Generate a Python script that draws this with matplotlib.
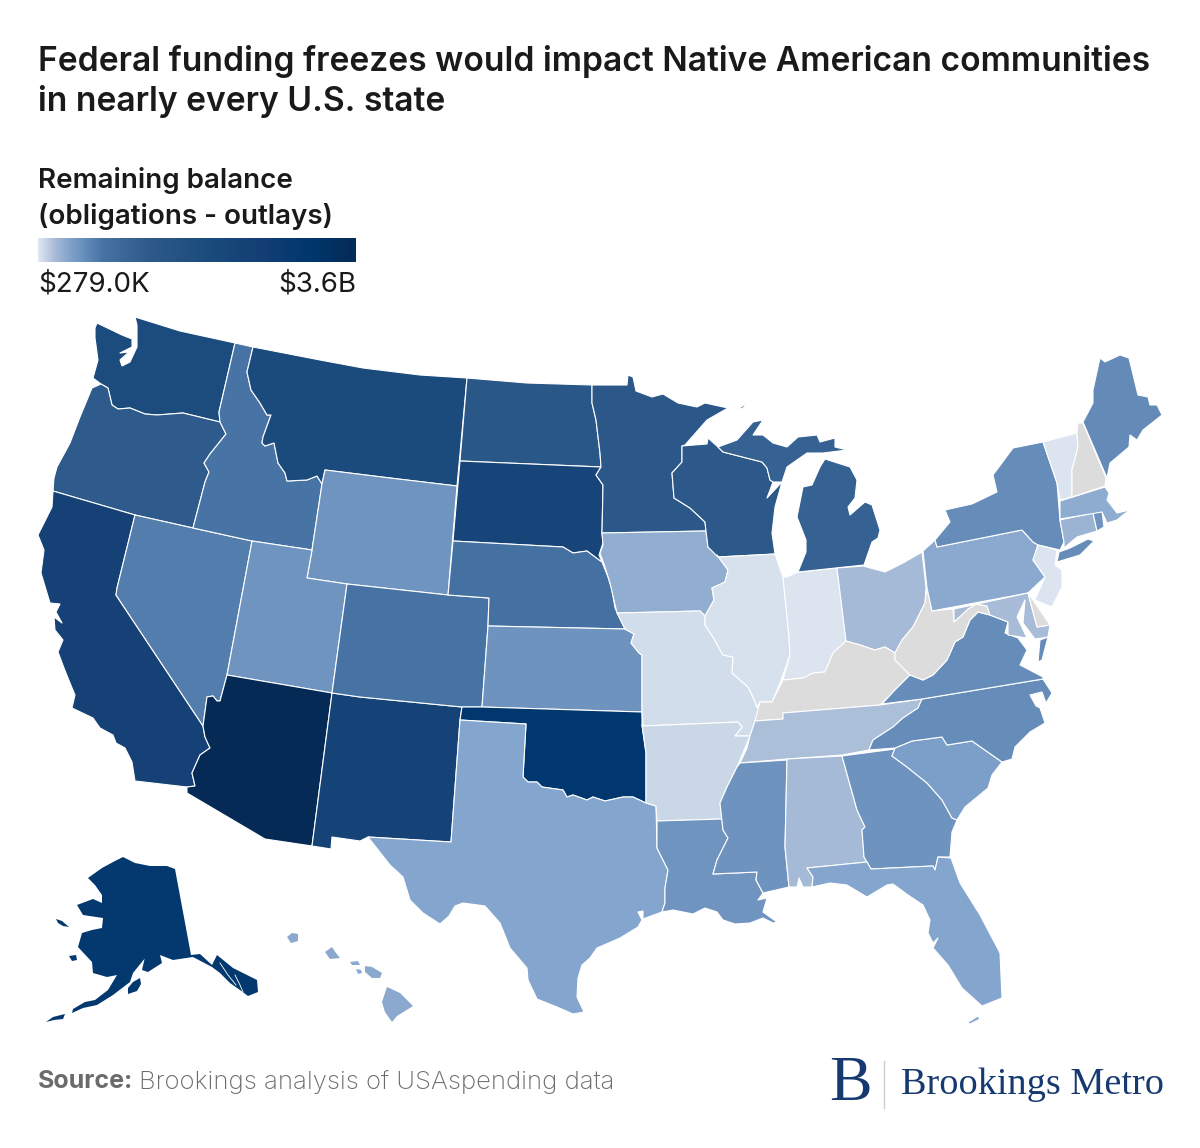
import matplotlib
matplotlib.use("Agg")
import matplotlib.pyplot as plt
import numpy as np
from matplotlib.collections import PolyCollection
from matplotlib.colors import LinearSegmentedColormap, Normalize

# remaining balance per state in $ millions (nan = no data)
states = ["WA", "OR", "CA", "NV", "ID", "MT", "WY", "UT", "AZ", "NM", "CO", "ND", "SD", "NE", "KS",
          "OK", "TX", "MN", "IA", "MO", "AR", "LA", "WI", "IL", "IN", "MI", "OH", "KY", "TN", "MS",
          "AL", "GA", "FL", "SC", "NC", "VA", "WV", "PA", "NY", "MD", "DE", "NJ", "CT", "RI", "MA",
          "VT", "NH", "ME", "AK", "HI"]
balance = [1900, 1250, 2400, 650, 720, 1950, 470, 470, 3600, 2300, 740, 1400, 2200, 780, 490,
           3060, 345, 1350, 288, 50, 80, 468, 1300, 30, 18, 1100, 200, np.nan, 180, 480,
           205, 480, 350, 380, 525, 525, np.nan, 310, 525, 190, np.nan, 18, 245, 470, 300,
           18, np.nan, 540, 2950, 320]

# state outlines
outlines = {
    "WA": [[(97,323),(122,335),(132,339),(132,347),(120,353),(129,352),(120,360),(122,366),(130,362),(137,347),(137,325),(135,317),(180,331),(235,343),(219,412),(220,422),(183,413),(157,415),(145,414),(130,408),(118,409),(112,405),(108,388),(101,384),(93,378),(98,360),(95,338),(95,328)]],
    "OR": [[(101,384),(108,388),(112,405),(118,409),(130,408),(145,414),(157,415),(183,413),(220,422),(226,434),(210,454),(204,463),(209,472),(205,482),(193,528),(135,515),(53,491),(54,478),(57,467),(70,443),(80,417),(92,388)]],
    "CA": [[(53,491),(135,515),(117,588),(116,595),(203,726),(205,737),(210,748),(200,755),(192,773),(195,786),(187,787),(135,781),(132,762),(125,748),(116,743),(113,735),(100,728),(93,718),(72,708),(75,695),(70,683),(64,668),(58,652),(63,640),(55,630),(54,617),(62,623),(56,612),(60,604),(50,603),(41,573),(44,550),(38,535),(52,507)]],
    "NV": [[(135,515),(193,528),(252,541),(227,675),(220,701),(217,701),(213,696),(207,697),(203,726),(116,595),(117,588)]],
    "ID": [[(235,343),(253,347),(247,372),(251,390),(260,403),(267,415),(271,415),(263,437),(262,443),(265,446),(274,443),(278,463),(285,473),(287,481),(307,480),(317,476),(322,484),(312,550),(252,541),(193,528),(205,482),(209,472),(204,463),(210,454),(226,434),(220,422),(219,412)]],
    "MT": [[(253,347),(320,360),(363,368),(420,375),(467,378),(457,486),(390,478),(325,470),(322,484),(317,476),(307,480),(287,481),(285,473),(278,463),(274,443),(265,446),(262,443),(263,437),(271,415),(267,415),(260,403),(251,390),(247,372)]],
    "WY": [[(325,470),(390,478),(457,486),(448,595),(347,584),(307,578),(312,550),(322,484)]],
    "UT": [[(252,541),(312,550),(307,578),(347,584),(332,693),(227,675)]],
    "AZ": [[(227,675),(332,693),(312,846),(265,839),(187,793),(187,787),(195,786),(192,773),(200,755),(210,748),(205,737),(203,726),(207,697),(213,696),(217,701),(220,701)]],
    "NM": [[(332,693),(360,697),(462,707),(460,720),(451,842),(368,837),(360,841),(332,837),(331,849),(312,846)]],
    "CO": [[(347,584),(448,595),(489,598),(488,626),(482,707),(462,707),(360,697),(332,693)]],
    "ND": [[(467,378),(527,383),(592,385),(592,403),(596,420),(600,453),(601,467),(460,461)]],
    "SD": [[(460,461),(601,467),(596,475),(603,485),(602,533),(603,543),(599,555),(602,562),(599,560),(587,551),(573,553),(563,547),(453,541)]],
    "NE": [[(453,541),(563,547),(573,553),(587,551),(599,560),(602,562),(608,577),(612,590),(615,608),(625,629),(488,626),(489,598),(448,595)]],
    "KS": [[(488,626),(625,629),(634,634),(631,643),(639,653),(642,655),(642,712),(482,707)]],
    "OK": [[(462,707),(482,707),(642,712),(642,725),(646,753),(646,803),(633,797),(623,797),(605,801),(593,797),(587,800),(573,795),(567,797),(563,790),(542,787),(537,782),(528,782),(523,777),(526,724),(460,720)]],
    "TX": [[(460,720),(526,724),(523,777),(528,782),(537,782),(542,787),(563,790),(567,797),(573,795),(587,800),(593,797),(605,801),(623,797),(633,797),(646,803),(656,806),(657,848),(668,870),(665,888),(665,903),(662,912),(643,919),(643,911),(638,912),(642,920),(638,927),(620,938),(597,948),(590,958),(582,965),(578,978),(577,997),(584,1012),(573,1014),(557,1007),(537,999),(528,980),(527,968),(510,948),(500,923),(485,906),(463,903),(455,906),(449,916),(440,924),(423,913),(410,900),(403,877),(390,865),(368,837),(451,842)]],
    "MN": [[(592,385),(627,385),(628,375),(633,377),(636,391),(652,397),(663,394),(678,403),(697,407),(705,403),(728,408),(707,420),(685,445),(682,446),(682,462),(672,473),(674,498),(690,508),(705,522),(706,531),(602,533),(603,485),(596,475),(601,467),(600,453),(596,420),(592,403)]],
    "IA": [[(602,533),(706,531),(708,547),(717,555),(728,570),(725,582),(712,588),(714,600),(705,616),(700,611),(617,613),(610,583),(605,567),(600,553),(603,545)]],
    "MO": [[(617,613),(700,611),(705,616),(705,625),(713,637),(723,655),(733,657),(732,673),(748,687),(752,695),(757,707),(759,709),(755,721),(750,736),(735,736),(742,727),(738,722),(643,726),(642,712),(642,655),(639,653),(631,643),(634,634),(625,629)]],
    "AR": [[(643,726),(738,722),(742,727),(735,736),(750,736),(745,748),(737,767),(727,787),(720,803),(722,819),(657,821),(656,806),(646,803),(646,753),(642,725)]],
    "LA": [[(657,821),(722,819),(723,830),(728,838),(717,860),(713,874),(757,872),(756,880),(763,893),(758,900),(767,898),(763,912),(777,922),(773,923),(763,918),(750,923),(735,924),(723,920),(717,912),(705,908),(693,914),(673,910),(662,912),(665,903),(665,888),(668,870),(657,848)]],
    "WI": [[(682,446),(707,444),(708,438),(718,447),(723,452),(762,462),(767,468),(770,480),(773,482),(767,498),(782,482),(775,507),(772,533),(775,554),(718,557),(708,547),(706,531),(705,522),(690,508),(674,498),(672,473),(682,462)]],
    "IL": [[(718,557),(775,554),(783,577),(789,637),(790,655),(780,683),(772,702),(760,702),(757,707),(752,695),(748,687),(732,673),(733,657),(723,655),(713,637),(705,625),(705,616),(714,600),(712,588),(725,582),(728,570),(717,555)]],
    "IN": [[(783,577),(787,577),(798,572),(837,568),(846,641),(833,653),(825,672),(813,673),(803,678),(783,680),(790,655),(789,637)]],
    "MI": [[(718,447),(737,440),(753,422),(763,420),(753,435),(763,435),(773,443),(787,447),(798,437),(817,435),(820,442),(835,438),(835,447),(847,450),(823,453),(807,453),(787,467),(782,482),(773,482),(770,480),(767,468),(762,462),(723,452)],
           [(825,459),(850,467),(857,480),(855,498),(848,507),(850,515),(865,502),(872,505),(880,530),(878,538),(872,542),(864,565),(798,572),(806,552),(806,540),(797,517),(803,487),(812,485),(820,467)],
           [(737,410),(748,402),(743,408)]],
    "OH": [[(837,568),(863,566),(885,572),(903,563),(922,552),(926,587),(925,603),(913,627),(902,640),(895,653),(885,647),(875,650),(860,645),(846,641)]],
    "KY": [[(846,641),(860,645),(875,650),(885,647),(895,653),(895,660),(910,675),(895,690),(880,705),(783,713),(783,719),(755,721),(760,702),(772,702),(783,680),(803,678),(813,673),(825,672),(833,653)]],
    "TN": [[(755,721),(783,719),(783,713),(880,705),(922,699),(918,708),(903,718),(893,727),(873,740),(869,750),(842,755),(787,759),(740,763),(747,748),(750,736)]],
    "MS": [[(740,763),(787,760),(785,847),(789,887),(763,893),(756,880),(757,872),(713,874),(717,860),(728,838),(723,830),(720,803),(727,787),(737,767)]],
    "AL": [[(787,759),(842,756),(857,810),(865,827),(862,830),(864,857),(867,862),(807,868),(813,877),(812,887),(803,887),(799,878),(797,887),(789,887),(785,847)]],
    "GA": [[(842,756),(895,749),(892,756),(907,767),(927,783),(942,800),(952,818),(957,820),(952,832),(950,857),(938,857),(935,870),(933,866),(871,869),(864,857),(862,830),(865,827),(857,810)]],
    "FL": [[(807,868),(867,862),(871,869),(933,866),(935,870),(938,857),(951,858),(960,883),(980,915),(1000,953),(1002,998),(982,1006),(962,988),(948,965),(933,948),(938,938),(933,943),(928,933),(930,920),(923,905),(908,895),(893,884),(887,885),(867,897),(847,885),(830,883),(812,887),(813,877)],
           [(967,1023),(978,1016),(980,1019),(970,1024)]],
    "SC": [[(892,756),(895,748),(912,741),(942,737),(947,745),(972,741),(1002,762),(992,775),(988,788),(965,807),(957,820),(952,818),(942,800),(927,783),(907,767)]],
    "NC": [[(1043,679),(1052,693),(1046,703),(1042,692),(1030,695),(1036,706),(1040,708),(1045,723),(1030,732),(1015,747),(1012,759),(1002,762),(972,741),(947,745),(942,737),(912,741),(895,748),(869,750),(873,740),(893,727),(903,718),(918,708),(922,699)]],
    "VA": [[(978,612),(990,615),(1008,622),(1005,633),(1018,638),(1027,650),(1020,665),(1043,677),(1043,679),(922,699),(882,704),(895,690),(910,675),(923,680),(933,675),(947,660),(955,642),(963,637),(970,620)],
           [(1038,662),(1040,640),(1048,637),(1042,660)]],
    "WV": [[(927,588),(932,611),(953,609),(954,622),(968,609),(976,604),(987,606),(990,615),(978,612),(970,620),(963,637),(955,642),(947,660),(933,675),(923,680),(910,675),(895,660),(895,653),(902,640),(913,627),(925,603)]],
    "PA": [[(923,551),(935,540),(937,547),(1022,530),(1033,542),(1038,545),(1033,560),(1045,577),(1028,593),(932,611),(927,588)]],
    "NY": [[(937,547),(935,540),(950,522),(945,510),(972,504),(997,492),(993,475),(1013,448),(1043,442),(1057,483),(1060,520),(1064,542),(1060,550),(1038,545),(1033,542),(1022,530)],
           [(1057,562),(1059,552),(1070,548),(1088,539),(1094,541),(1080,555)]],
    "MD": [[(954,609),(1028,593),(1037,627),(1050,625),(1048,637),(1035,639),(1023,623),(1025,600),(1017,617),(1027,638),(1008,635),(1008,622),(990,615),(987,606),(976,604),(968,609),(954,622)]],
    "DE": [[(1028,593),(1035,603),(1050,625),(1037,627)]],
    "NJ": [[(1038,545),(1057,550),(1055,565),(1062,570),(1062,587),(1052,607),(1035,600),(1045,577),(1033,560)]],
    "CT": [[(1060,520),(1093,513),(1097,531),(1077,537),(1064,548),(1064,542)]],
    "RI": [[(1093,513),(1102,511),(1104,527),(1097,531)]],
    "MA": [[(1060,501),(1105,487),(1109,493),(1107,500),(1117,513),(1130,510),(1123,515),(1117,520),(1107,523),(1102,512),(1060,519)]],
    "VT": [[(1043,442),(1077,433),(1078,447),(1072,470),(1072,497),(1060,500),(1057,483)]],
    "NH": [[(1078,423),(1083,423),(1106,478),(1105,486),(1072,497),(1072,470),(1078,447),(1077,433)]],
    "ME": [[(1083,422),(1093,403),(1093,390),(1100,358),(1105,362),(1120,355),(1129,358),(1138,395),(1148,397),(1150,405),(1157,405),(1162,415),(1143,430),(1137,440),(1130,435),(1129,447),(1110,463),(1107,478)]],
    "AK": [[(88,878),(102,868),(115,861),(123,857),(135,863),(150,866),(167,866),(175,869),(191,955),(200,954),(212,965),(217,955),(233,968),(257,980),(258,992),(248,996),(240,990),(230,983),(220,973),(212,967),(193,957),(173,960),(160,955),(162,963),(148,972),(142,970),(145,957),(150,952),(133,973),(130,982),(113,995),(97,1005),(83,1008),(72,1013),(73,1009),(85,1002),(95,1000),(108,990),(117,975),(107,977),(93,973),(92,962),(78,947),(82,933),(92,930),(102,928),(103,918),(83,915),(77,905),(93,899),(102,903),(102,895),(95,885)],
           [(56,919),(62,921),(69,927),(63,926),(58,923)],
           [(69,956),(76,955),(77,960),(72,961)],
           [(128,988),(133,982),(140,978),(141,984),(137,991),(128,994)],
           [(46,1022),(53,1017),(65,1014),(63,1019),(54,1020)]],
    "HI": [[(387,987),(400,993),(413,1006),(397,1016),(392,1022),(385,1012),(382,1002)],
           [(365,966),(372,967),(382,973),(380,978),(372,978),(365,972)],
           [(350,962),(358,961),(360,965),(352,965)],
           [(356,969),(361,970),(362,973),(358,974)],
           [(325,952),(332,947),(336,953),(340,958),(330,959)],
           [(287,937),(292,933),(298,934),(298,941),(291,943)]],
}
# white channels in the Alaska panhandle
inlets = [[(220,963),(228,975),(236,985)], [(235,975),(240,985),(243,992)]]

title_lines = ["Federal funding freezes would impact Native American communities",
               "in nearly every U.S. state"]
legend_lines = ["Remaining balance", "(obligations - outlays)"]
legend_ticks = ["$279.0K", "$3.6B"]

plt.rcParams["font.family"] = ["Inter", "DejaVu Sans"]

cmap = LinearSegmentedColormap.from_list("balance", [
    (0, "#dfe7f1"), (0.05, "#a9bdd8"), (0.1, "#7fa2cb"), (0.2, "#4874a5"), (0.35, "#2d5a8a"),
    (0.55, "#1a4a7c"), (0.7, "#143f74"), (0.85, "#00376f"), (1, "#052a56")])
cmap.set_bad("#dcdcdc")
norm = Normalize(0.279, 3600)

fig = plt.figure(figsize=(12, 11.48), dpi=100)
ax = fig.add_axes([0, 0, 1, 1])

rings, ring_values, ring_widths = [], [], []
for state, value in zip(states, balance):
    for ring in outlines[state]:
        rings.append(ring)
        ring_values.append(value)
        # no white border on the inset states, it eats the small islands
        ring_widths.append(0 if state in ("AK", "HI") else 0.8)
ax.add_collection(PolyCollection(rings, array=np.ma.masked_invalid(ring_values), cmap=cmap, norm=norm,
                                 edgecolors="white", linewidths=ring_widths))
for inlet in inlets:
    ax.plot(*zip(*inlet), color="white", lw=0.6)

# legend bar
ax.imshow(np.linspace(0, 1, 256)[None, :], cmap=cmap, extent=(38, 356, 262, 238), aspect="auto")

ax.set_xlim(0, 1200)
ax.set_ylim(1148, 0)
ax.axis("off")

ink = "#1a1a1a"
ax.text(38, 61, title_lines[0], fontsize=24.2, fontweight="semibold", color=ink, va="center")
ax.text(38, 102, title_lines[1], fontsize=24.2, fontweight="semibold", color=ink, va="center")
ax.text(38, 180, legend_lines[0], fontsize=20, fontweight="semibold", color=ink, va="center")
ax.text(38, 216, legend_lines[1], fontsize=20, fontweight="semibold", color=ink, va="center")
ax.text(38, 284, legend_ticks[0], fontsize=20, color=ink, va="center")
ax.text(356, 284, legend_ticks[1], fontsize=20, color=ink, va="center", ha="right")

ax.text(38, 1082, "Source:", fontsize=18, fontweight="bold", color="#6b6b6b", va="center")
ax.text(139, 1082, "Brookings analysis of USAspending data", fontsize=18.5, fontweight="light", color="#6b6b6b", va="center")

# logo
navy = "#163a70"
ax.text(850, 1085, "B", family="Liberation Serif", fontsize=46, color=navy, va="center", ha="center")
ax.plot([884, 884], [1061, 1108], color="#c9ced6", lw=1)
ax.text(901, 1085, "Brookings Metro", family="Liberation Serif", fontsize=27.5, color=navy, va="center")

fig.savefig("out.png", dpi=100)
